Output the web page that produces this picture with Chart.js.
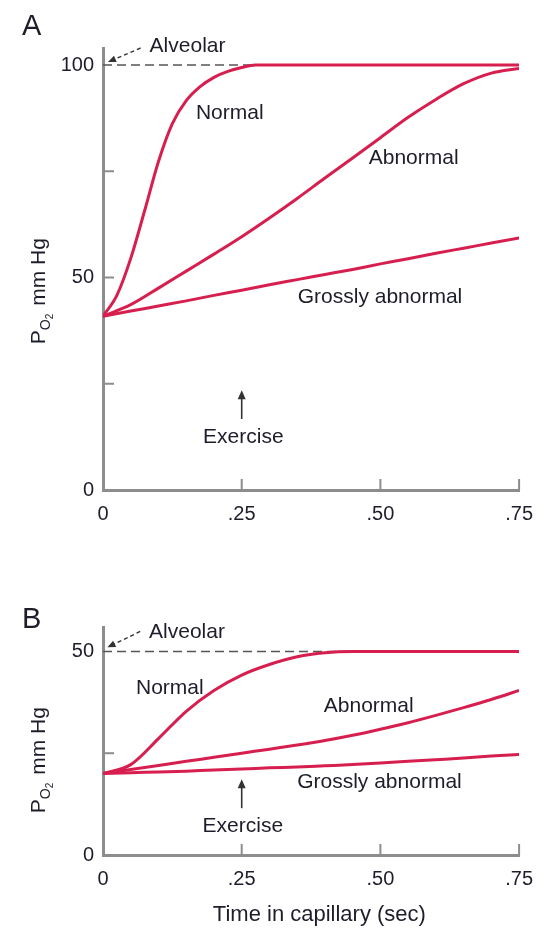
<!DOCTYPE html>
<html>
<head>
<meta charset="utf-8">
<script src="https://cdn.jsdelivr.net/npm/chart.js@4.4.1/dist/chart.umd.min.js"></script>
<style>
  html, body { margin: 0; padding: 0; background: #fff; }
  #wrap { position: relative; width: 545px; height: 928px; }
  canvas { position: absolute; left: 0; }
  #chartA { top: 0; }
  #chartB { top: 560px; }
</style>
</head>
<body>
<div id="wrap">
  <canvas id="chartA" width="545" height="540"></canvas>
  <canvas id="chartB" width="545" height="368"></canvas>
</div>
<script>
// time in capillary (sec)
const TIME = [0, 0.05, 0.1, 0.15, 0.2, 0.25, 0.3, 0.35, 0.4, 0.45, 0.5, 0.55, 0.6, 0.65, 0.7, 0.75];
const TIME_FINE = [0, 0.025, 0.05, 0.075, 0.1, 0.125, 0.15, 0.175, 0.2, 0.225, 0.25, 0.275, 0.3, 0.35, 0.4, 0.45, 0.5, 0.55, 0.6, 0.65, 0.7, 0.75];

// panel A, PO2 mm Hg
const A_NORMAL = [40.9, 45.8, 54.5, 65.7, 77.3, 86.2, 91.6, 94.9, 97.1, 98.5, 99.4, 100, 100, 100, 100, 100, 100, 100, 100, 100, 100, 100];
const A_ABNORMAL = [40.9, 43.6, 47.5, 51.5, 55.5, 59.6, 64.0, 68.6, 73.4, 78.1, 82.9, 87.7, 91.9, 95.6, 98.1, 99.2];
const A_GROSS = [40.9, 42.1, 43.3, 44.5, 45.8, 47.0, 48.3, 49.5, 50.7, 51.9, 53.2, 54.4, 55.7, 56.9, 58.1, 59.3];
const A_ALVEOLAR = 100;

// panel B, PO2 mm Hg
const B_NORMAL = [20.0, 22.2, 28.6, 35.3, 40.4, 44.2, 46.8, 48.7, 49.7, 50, 50, 50, 50, 50, 50, 50];
const B_ABNORMAL = [20.0, 21.0, 22.0, 23.0, 24.0, 25.0, 26.0, 27.0, 28.1, 29.4, 30.9, 32.5, 34.3, 36.2, 38.2, 40.4];
const B_GROSS = [20.0, 20.2, 20.4, 20.6, 20.9, 21.1, 21.4, 21.6, 21.9, 22.2, 22.6, 23.0, 23.4, 23.8, 24.3, 24.7];
const B_ALVEOLAR = 50;

// axes
const X_TICKS = [0, 0.25, 0.5, 0.75];
const X_LABELS = ['0', '.25', '.50', '.75'];
const Y_TICKS_A = [0, 25, 50, 75, 100];
const Y_LABELS_A = ['0', '', '50', '', '100'];
const Y_TICKS_B = [0, 25, 50];
const Y_LABELS_B = ['0', '', '50'];

// text notes (time, value at baseline)
const NOTES_A = [
  { text: 'Alveolar', t: 0.084, v: 103.1 },
  { text: 'Normal', t: 0.1675, v: 87.3 },
  { text: 'Abnormal', t: 0.479, v: 76.6 },
  { text: 'Grossly abnormal', t: 0.351, v: 44.0 },
  { text: 'Exercise', t: 0.253, v: 11.1, align: 'center' }
];
const NOTES_B = [
  { text: 'Alveolar', t: 0.083, v: 53.4 },
  { text: 'Normal', t: 0.0595, v: 39.5 },
  { text: 'Abnormal', t: 0.398, v: 35.1 },
  { text: 'Grossly abnormal', t: 0.35, v: 16.4 },
  { text: 'Exercise', t: 0.252, v: 5.7, align: 'center' }
];

const RED = '#d71f4f';
const AXIS = '#8d8d8d';
const INK = '#1d1d2b';
const FONT = '"Liberation Sans", Arial, sans-serif';

Chart.defaults.font.family = FONT;

const pts = (xs, ys) => xs.map((t, i) => ({ x: t, y: ys[i] }));

function line(ctx, x1, y1, x2, y2) {
  ctx.beginPath();
  ctx.moveTo(x1, y1);
  ctx.lineTo(x2, y2);
  ctx.stroke();
}

function arrowHead(ctx, x, y, angle, len, half) {
  ctx.save();
  ctx.translate(x, y);
  ctx.rotate(angle);
  ctx.beginPath();
  ctx.moveTo(0, 0);
  ctx.lineTo(-len, -half);
  ctx.lineTo(-len, half);
  ctx.closePath();
  ctx.fill();
  ctx.restore();
}

const overlay = {
  id: 'overlay',
  afterDraw(chart, args, o) {
    const { ctx, scales: { x, y } } = chart;
    const px = t => x.getPixelForValue(t);
    const py = v => y.getPixelForValue(v);
    ctx.save();

    // inward tick marks
    ctx.strokeStyle = AXIS;
    ctx.lineWidth = 2;
    o.yMarks.forEach(v => line(ctx, x.left, py(v), x.left + 11, py(v)));
    X_TICKS.slice(1).forEach(t => line(ctx, px(t), y.bottom, px(t), y.bottom - 11));

    // notes
    ctx.fillStyle = INK;
    ctx.font = '21px ' + FONT;
    ctx.textBaseline = 'alphabetic';
    o.notes.forEach(n => {
      ctx.textAlign = n.align || 'left';
      ctx.fillText(n.text, px(n.t), py(n.v));
    });

    // exercise arrow
    ctx.strokeStyle = '#333';
    ctx.fillStyle = '#333';
    ctx.lineWidth = 1.6;
    const ex = px(0.25);
    line(ctx, ex, py(o.exTail), ex, py(o.exTip) + 6);
    arrowHead(ctx, ex, py(o.exTip), -Math.PI / 2, 9, 4);

    // alveolar arrow
    const [t1, v1, t2, v2] = o.alvArrow;
    const x1 = px(t1), y1 = py(v1), x2 = px(t2), y2 = py(v2);
    const ang = Math.atan2(y2 - y1, x2 - x1);
    ctx.setLineDash([4, 3]);
    ctx.lineWidth = 1.4;
    line(ctx, x1, y1, x2 - 6 * Math.cos(ang), y2 - 6 * Math.sin(ang));
    ctx.setLineDash([]);
    arrowHead(ctx, x2, y2, ang, 8, 3.5);

    // panel letter
    ctx.fillStyle = INK;
    ctx.textAlign = 'left';
    ctx.font = '29px ' + FONT;
    ctx.fillText(o.panel, 22, o.panelY);

    // y title: P O2 mm Hg
    ctx.save();
    ctx.translate(45, py(o.titleV));
    ctx.rotate(-Math.PI / 2);
    const big = '21px ' + FONT, mid = '14px ' + FONT, sm = '10px ' + FONT;
    ctx.font = big; const wP = ctx.measureText('P').width, wM = ctx.measureText('mm Hg').width;
    ctx.font = mid; const wO = ctx.measureText('O').width;
    ctx.font = sm; const w2 = ctx.measureText('2').width;
    const gap = 8;
    let cx = -(wP + wO + w2 + gap + wM) / 2;
    ctx.font = big; ctx.fillText('P', cx, 0); cx += wP;
    ctx.font = mid; ctx.fillText('O', cx, 5); cx += wO;
    ctx.font = sm; ctx.fillText('2', cx, 8); cx += w2 + gap;
    ctx.font = big; ctx.fillText('mm Hg', cx, 0);
    ctx.restore();

    // x title
    if (o.xTitle) {
      ctx.font = '22px ' + FONT;
      ctx.textAlign = 'center';
      ctx.fillText(o.xTitle, px(0.39), y.bottom + 66);
    }
    ctx.restore();
  }
};

function makeChart(id, p) {
  const ticksFont = { size: 20, family: FONT };
  return new Chart(document.getElementById(id), {
    type: 'line',
    data: {
      datasets: [
        { label: 'Normal', data: pts(p.normalT, p.normal) },
        { label: 'Abnormal', data: pts(TIME, p.abnormal) },
        { label: 'Grossly abnormal', data: pts(TIME, p.gross) },
        {
          label: 'Alveolar', data: pts([0, 0.75], [p.alveolar, p.alveolar]),
          borderColor: '#555', borderWidth: 1.5, borderDash: [9, 5], cubicInterpolationMode: 'default', tension: 0
        }
      ]
    },
    options: {
      responsive: false,
      animation: false,
      layout: { padding: { top: p.top, right: 21, left: 0, bottom: 0 } },
      elements: {
        point: { radius: 0 },
        line: { borderColor: RED, borderWidth: 3, cubicInterpolationMode: 'monotone', fill: false }
      },
      plugins: {
        legend: { display: false },
        tooltip: { enabled: false },
        overlay: p.overlay
      },
      scales: {
        x: {
          type: 'linear', min: 0, max: 0.75,
          afterBuildTicks: s => { s.ticks = X_TICKS.map(v => ({ value: v })); },
          afterFit: s => { s.height = p.xHeight; },
          ticks: {
            autoSkip: false, maxRotation: 0, padding: 12, color: INK, font: ticksFont,
            callback: v => X_LABELS[X_TICKS.indexOf(v)] ?? ''
          },
          grid: { drawOnChartArea: false, drawTicks: false, color: 'rgba(0,0,0,0)' },
          border: { display: true, color: AXIS, width: 3 }
        },
        y: {
          type: 'linear', min: 0, max: p.yMax,
          afterBuildTicks: s => { s.ticks = p.yTicks.map(v => ({ value: v })); },
          afterFit: s => { s.width = 103; },
          ticks: {
            autoSkip: false, padding: 9, color: INK, font: ticksFont,
            callback: v => p.yLabels[p.yTicks.indexOf(v)] ?? ''
          },
          grid: { drawOnChartArea: false, drawTicks: false, color: 'rgba(0,0,0,0)' },
          border: { display: true, color: AXIS, width: 3 }
        }
      }
    },
    plugins: [overlay]
  });
}

makeChart('chartA', {
  normalT: TIME_FINE, normal: A_NORMAL, abnormal: A_ABNORMAL, gross: A_GROSS, alveolar: A_ALVEOLAR,
  yMax: 104, yTicks: Y_TICKS_A, yLabels: Y_LABELS_A, top: 48, xHeight: 50,
  overlay: {
    notes: NOTES_A, yMarks: [25, 50, 75], exTip: 23.5, exTail: 16.7,
    alvArrow: [0.0677, 104, 0.009, 100.7], panel: 'A', panelY: 35, titleV: 46.8
  }
});

makeChart('chartB', {
  normalT: TIME, normal: B_NORMAL, abnormal: B_ABNORMAL, gross: B_GROSS, alveolar: B_ALVEOLAR,
  yMax: 56, yTicks: Y_TICKS_B, yLabels: Y_LABELS_B, top: 67, xHeight: 73,
  overlay: {
    notes: NOTES_B, yMarks: [25], exTip: 18.6, exTail: 11.5,
    alvArrow: [0.067, 54.9, 0.008, 51], panel: 'B', panelY: 68, titleV: 23.3,
    xTitle: 'Time in capillary (sec)'
  }
});
</script>
</body>
</html>
